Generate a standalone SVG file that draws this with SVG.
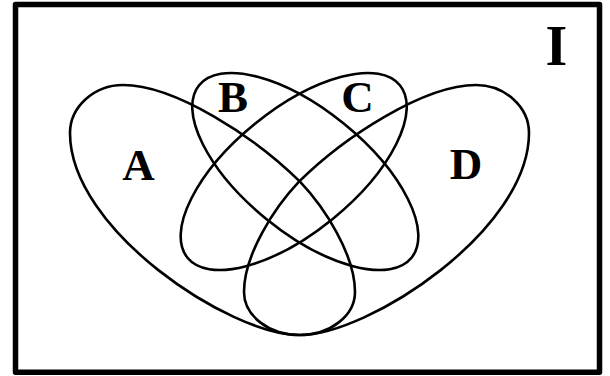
<svg xmlns="http://www.w3.org/2000/svg" width="610" height="376" viewBox="0 0 610 376">
  <style>
    .set { fill: none; stroke: #000; stroke-width: 2.6; }
    .frame { fill: #fff; stroke: #000; stroke-width: 5.5; stroke-linejoin: round; }
    .lbl { font-family: "Liberation Serif", "Times New Roman", serif; font-weight: bold; font-size: 45px; text-anchor: middle; fill: #000; }
    .uni { font-size: 56px; }
  </style>
  <defs>
    <path id="tear" d="M299.5,335 C230,335 70,230 70,133 C70,107 94,85 123,85 C175,85 255,137 300,181.7 C325,208 355,255 355,292 C355,315.7 330.3,335 299.5,335 Z"/>
  </defs>
  <rect id="universe" class="frame" x="15.5" y="4.5" width="584" height="367.7"/>
  <g id="set-A">
    <use href="#tear" class="set"/>
    <text class="lbl" x="138.5" y="180">A</text>
  </g>
  <g id="set-D">
    <use href="#tear" class="set" transform="translate(599,0) scale(-1,1)"/>
    <text class="lbl" x="466" y="179">D</text>
  </g>
  <g id="set-B">
    <ellipse class="set" cx="305.3" cy="171.5" rx="136.8" ry="61.4" transform="rotate(39.07 305.3 171.5)"/>
    <text class="lbl" x="233" y="112">B</text>
  </g>
  <g id="set-C">
    <ellipse class="set" cx="293.7" cy="171.5" rx="136.8" ry="61.4" transform="rotate(-39.07 293.7 171.5)"/>
    <text class="lbl" x="357.5" y="112">C</text>
  </g>
  <g id="label-I">
    <text class="lbl uni" x="556.5" y="65">I</text>
  </g>
  <g id="connectors"/>
</svg>
